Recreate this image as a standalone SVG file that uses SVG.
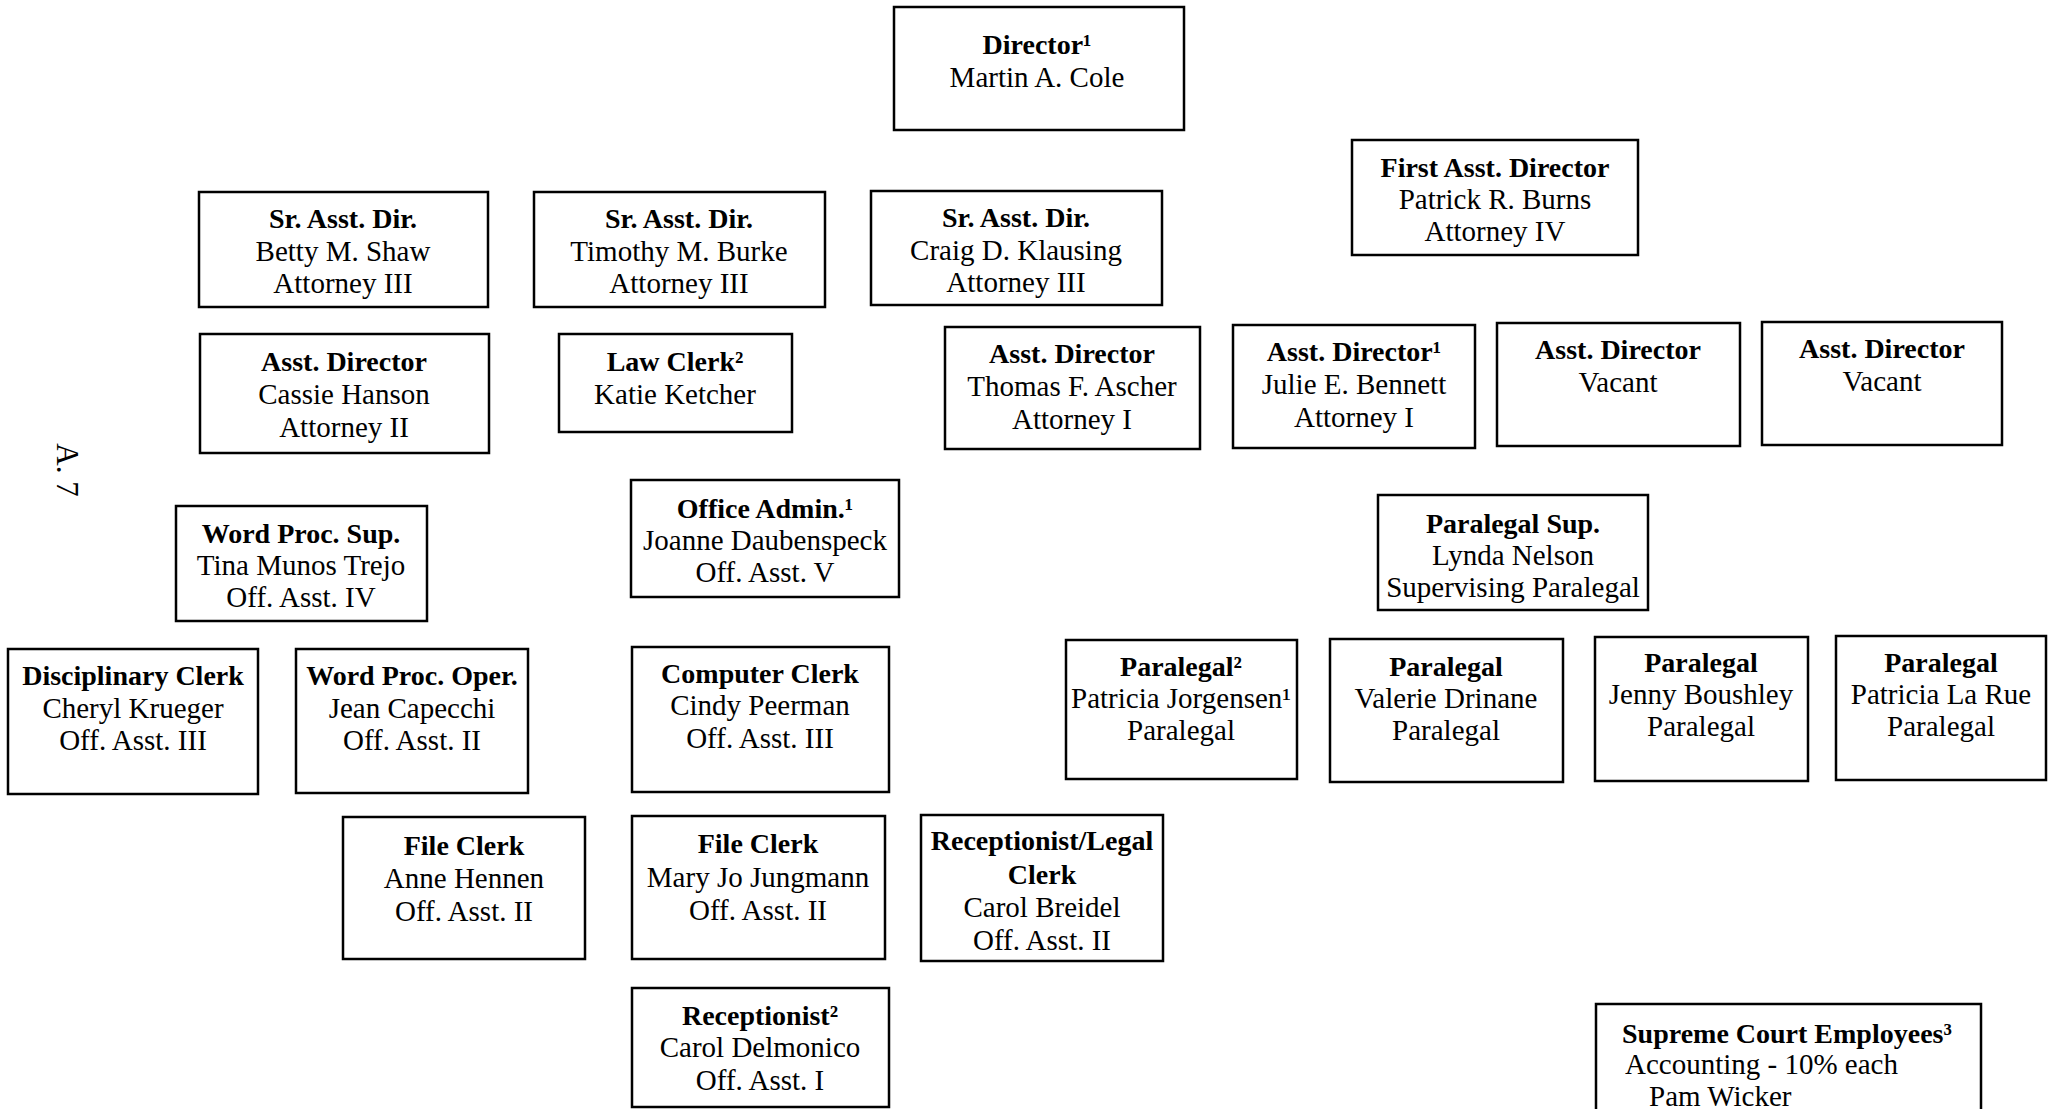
<svg xmlns="http://www.w3.org/2000/svg" width="2051" height="1109" viewBox="0 0 2051 1109">
<style>
.box{fill:#fff;stroke:#000;stroke-width:2.5}
.t{font-family:"Liberation Serif","Times New Roman",serif;font-size:29px;text-anchor:middle;fill:#000}
.b{font-weight:bold;font-size:28px}
.l{text-anchor:start}
</style>
<rect x="0" y="0" width="2051" height="1109" fill="#fff"/>
<g id="connectors"></g>
<text class="t" transform="translate(57,470) rotate(90)" style="font-size:31px">A. 7</text>
<g id="director"><rect class="box" x="894" y="7" width="290" height="123"/><text class="t b" x="1037" y="54">Director¹</text><text class="t" x="1037" y="87">Martin A. Cole</text></g>
<g id="sad-shaw"><rect class="box" x="199" y="192" width="289" height="115"/><text class="t b" x="343" y="228">Sr. Asst. Dir.</text><text class="t" x="343" y="261">Betty M. Shaw</text><text class="t" x="343" y="293">Attorney III</text></g>
<g id="sad-burke"><rect class="box" x="534" y="192" width="291" height="115"/><text class="t b" x="679" y="228">Sr. Asst. Dir.</text><text class="t" x="679" y="261">Timothy M. Burke</text><text class="t" x="679" y="293">Attorney III</text></g>
<g id="sad-klausing"><rect class="box" x="871" y="191" width="291" height="114"/><text class="t b" x="1016" y="227">Sr. Asst. Dir.</text><text class="t" x="1016" y="260">Craig D. Klausing</text><text class="t" x="1016" y="292">Attorney III</text></g>
<g id="first-asst"><rect class="box" x="1352" y="140" width="286" height="115"/><text class="t b" x="1495" y="177">First Asst. Director</text><text class="t" x="1495" y="209">Patrick R. Burns</text><text class="t" x="1495" y="241">Attorney IV</text></g>
<g id="ad-hanson"><rect class="box" x="200" y="334" width="289" height="119"/><text class="t b" x="344" y="371">Asst. Director</text><text class="t" x="344" y="404">Cassie Hanson</text><text class="t" x="344" y="437">Attorney II</text></g>
<g id="law-clerk"><rect class="box" x="559" y="334" width="233" height="98"/><text class="t b" x="675" y="371">Law Clerk²</text><text class="t" x="675" y="404">Katie Ketcher</text></g>
<g id="ad-ascher"><rect class="box" x="945" y="327" width="255" height="122"/><text class="t b" x="1072" y="363">Asst. Director</text><text class="t" x="1072" y="396">Thomas F. Ascher</text><text class="t" x="1072" y="429">Attorney I</text></g>
<g id="ad-bennett"><rect class="box" x="1233" y="325" width="242" height="123"/><text class="t b" x="1354" y="361">Asst. Director¹</text><text class="t" x="1354" y="394">Julie E. Bennett</text><text class="t" x="1354" y="427">Attorney I</text></g>
<g id="ad-vacant-1"><rect class="box" x="1497" y="323" width="243" height="123"/><text class="t b" x="1618" y="359">Asst. Director</text><text class="t" x="1618" y="392">Vacant</text></g>
<g id="ad-vacant-2"><rect class="box" x="1762" y="322" width="240" height="123"/><text class="t b" x="1882" y="358">Asst. Director</text><text class="t" x="1882" y="391">Vacant</text></g>
<g id="wp-sup"><rect class="box" x="176" y="506" width="251" height="115"/><text class="t b" x="301" y="543">Word Proc. Sup.</text><text class="t" x="301" y="575">Tina Munos Trejo</text><text class="t" x="301" y="607">Off. Asst. IV</text></g>
<g id="office-admin"><rect class="box" x="631" y="480" width="268" height="117"/><text class="t b" x="765" y="518">Office Admin.¹</text><text class="t" x="765" y="550">Joanne Daubenspeck</text><text class="t" x="765" y="582">Off. Asst. V</text></g>
<g id="paralegal-sup"><rect class="box" x="1378" y="495" width="270" height="115"/><text class="t b" x="1513" y="533">Paralegal Sup.</text><text class="t" x="1513" y="565">Lynda Nelson</text><text class="t" x="1513" y="597">Supervising Paralegal</text></g>
<g id="disc-clerk"><rect class="box" x="8" y="649" width="250" height="145"/><text class="t b" x="133" y="685">Disciplinary Clerk</text><text class="t" x="133" y="718">Cheryl Krueger</text><text class="t" x="133" y="750">Off. Asst. III</text></g>
<g id="wp-oper"><rect class="box" x="296" y="649" width="232" height="144"/><text class="t b" x="412" y="685">Word Proc. Oper.</text><text class="t" x="412" y="718">Jean Capecchi</text><text class="t" x="412" y="750">Off. Asst. II</text></g>
<g id="computer-clerk"><rect class="box" x="632" y="647" width="257" height="145"/><text class="t b" x="760" y="683">Computer Clerk</text><text class="t" x="760" y="715">Cindy Peerman</text><text class="t" x="760" y="748">Off. Asst. III</text></g>
<g id="paralegal-jorgensen"><rect class="box" x="1066" y="640" width="231" height="139"/><text class="t b" x="1181" y="676">Paralegal²</text><text class="t" x="1181" y="708">Patricia Jorgensen¹</text><text class="t" x="1181" y="740">Paralegal</text></g>
<g id="paralegal-drinane"><rect class="box" x="1330" y="639" width="233" height="143"/><text class="t b" x="1446" y="676">Paralegal</text><text class="t" x="1446" y="708">Valerie Drinane</text><text class="t" x="1446" y="740">Paralegal</text></g>
<g id="paralegal-boushley"><rect class="box" x="1595" y="637" width="213" height="144"/><text class="t b" x="1701" y="672">Paralegal</text><text class="t" x="1701" y="704">Jenny Boushley</text><text class="t" x="1701" y="736">Paralegal</text></g>
<g id="paralegal-larue"><rect class="box" x="1836" y="636" width="210" height="144"/><text class="t b" x="1941" y="672">Paralegal</text><text class="t" x="1941" y="704">Patricia La Rue</text><text class="t" x="1941" y="736">Paralegal</text></g>
<g id="file-hennen"><rect class="box" x="343" y="817" width="242" height="142"/><text class="t b" x="464" y="855">File Clerk</text><text class="t" x="464" y="888">Anne Hennen</text><text class="t" x="464" y="921">Off. Asst. II</text></g>
<g id="file-jungmann"><rect class="box" x="632" y="816" width="253" height="143"/><text class="t b" x="758" y="853">File Clerk</text><text class="t" x="758" y="887">Mary Jo Jungmann</text><text class="t" x="758" y="920">Off. Asst. II</text></g>
<g id="recep-breidel"><rect class="box" x="921" y="815" width="242" height="146"/><text class="t b" x="1042" y="850">Receptionist/Legal</text><text class="t b" x="1042" y="884">Clerk</text><text class="t" x="1042" y="917">Carol Breidel</text><text class="t" x="1042" y="950">Off. Asst. II</text></g>
<g id="recep-delmonico"><rect class="box" x="632" y="988" width="257" height="119"/><text class="t b" x="760" y="1025">Receptionist²</text><text class="t" x="760" y="1057">Carol Delmonico</text><text class="t" x="760" y="1090">Off. Asst. I</text></g>
<g id="supreme-court"><rect class="box" x="1596" y="1004" width="385" height="130"/><text class="t b l" x="1622" y="1043">Supreme Court Employees³</text><text class="t l" x="1625" y="1074">Accounting - 10% each</text><text class="t l" x="1649" y="1106">Pam Wicker</text></g>
</svg>
